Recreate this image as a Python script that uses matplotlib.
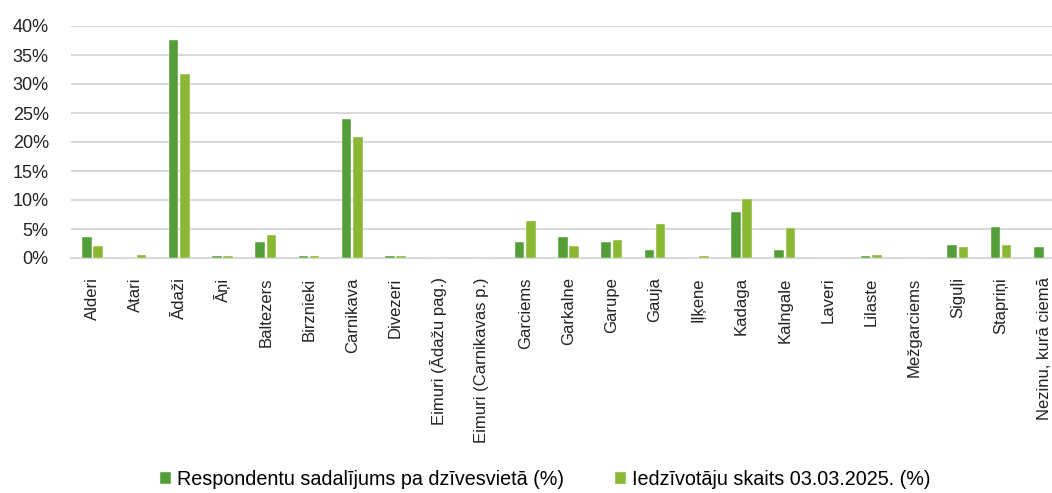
import numpy as np
import matplotlib.pyplot as plt
from matplotlib.ticker import FuncFormatter

# Categories (villages) and the two series, in percent
villages = ["Alderi", "Atari", "Ādaži", "Āņi", "Baltezers", "Birznieki", "Carnikava",
            "Divezeri", "Eimuri (Ādažu pag.)", "Eimuri (Carnikavas p.)", "Garciems",
            "Garkalne", "Garupe", "Gauja", "Iļķene", "Kadaga", "Kalngale", "Laveri",
            "Lilaste", "Mežgarciems", "Siguļi", "Stapriņi", "Nezinu, kurā ciemā"]
respondents = [3.6, 0.0, 37.5, 0.35, 2.8, 0.35, 24.0, 0.35, 0.0, 0.0, 2.8,
               3.7, 2.8, 1.3, 0.0, 7.9, 1.3, 0.0, 0.3, 0.0, 2.3, 5.4, 1.9]
residents = [2.1, 0.6, 31.7, 0.35, 3.9, 0.35, 20.9, 0.35, 0.0, 0.0, 6.3,
             2.1, 3.05, 5.9, 0.3, 10.1, 5.2, 0.0, 0.6, 0.0, 1.9, 2.3, 0.0]
series_labels = ["Respondentu sadalījums pa dzīvesvietā (%)",
                 "Iedzīvotāju skaits 03.03.2025. (%)"]

plt.rcParams["font.family"] = ["Liberation Sans", "DejaVu Sans"]

fig = plt.figure(figsize=(10.52, 4.93), dpi=100)
ax = fig.add_axes([71 / 1052, 235 / 493, 995 / 1052, 232 / 493])

x = np.arange(len(villages))
w = 0.22
ax.bar(x - 0.13, respondents, w, color="#549E39", edgecolor="white", linewidth=0.3,
       label=series_labels[0], zorder=3)
ax.bar(x + 0.13, residents, w, color="#8AB833", edgecolor="white", linewidth=0.3,
       label=series_labels[1], zorder=3)

ax.set_xlim(-0.5, len(villages) - 0.5)
ax.set_ylim(0, 40)
ax.set_yticks(np.arange(0, 41, 5))
ax.yaxis.set_major_formatter(FuncFormatter(lambda v, p: f"{v:.0f}%"))
ax.grid(True, axis="y", color="#d9d9d9", linewidth=1.5, zorder=0)

ax.set_xticks(x)
ax.set_xticklabels(villages, rotation=90, va="top", ha="center")
ax.tick_params(axis="x", length=0, labelsize=12, colors="#222222", pad=14)
ax.tick_params(axis="y", length=0, labelsize=13, colors="#222222", pad=16)

for s in ["top", "right", "left"]:
    ax.spines[s].set_visible(False)
ax.spines["bottom"].set_color("#d9d9d9")
ax.spines["bottom"].set_linewidth(1.5)

fig.legend(loc="center left", bbox_to_anchor=(142 / 1052, 0.027), ncol=2, frameon=False,
           fontsize=14.2, handlelength=0.55, handleheight=0.55, handletextpad=0.3,
           columnspacing=2.6)

plt.savefig("out.png", dpi=100)
